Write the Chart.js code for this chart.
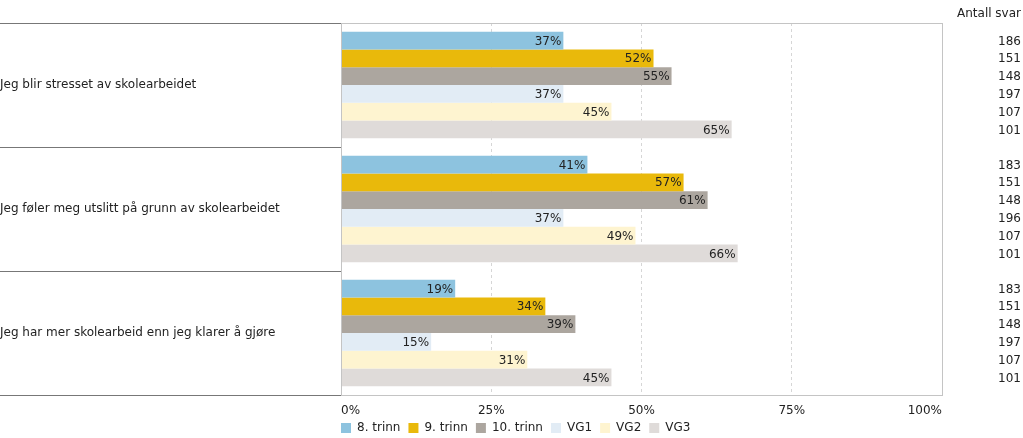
<!DOCTYPE html>
<html>
<head>
<meta charset="utf-8">
<script src="https://cdn.jsdelivr.net/npm/chart.js@4.4.1/dist/chart.umd.min.js"></script>
<style>
  html, body { margin: 0; padding: 0; background: #fff; }
  #wrap { width: 1023px; height: 438px; }
</style>
</head>
<body>
<div id="wrap"><canvas id="myChart"></canvas></div>
<script>
// statements (y categories)
const questions = [
  "Jeg blir stresset av skolearbeidet",
  "Jeg føler meg utslitt på grunn av skolearbeidet",
  "Jeg har mer skolearbeid enn jeg klarer å gjøre"
];
const groups = ["8. trinn", "9. trinn", "10. trinn", "VG1", "VG2", "VG3"];

// percent agreeing, one array per group (in question order)
const trinn8 = [37, 41, 19];
const trinn9 = [52, 57, 34];
const trinn10 = [55, 61, 39];
const vg1 = [37, 37, 15];
const vg2 = [45, 49, 31];
const vg3 = [65, 66, 45];

// number of answers ("Antall svar")
const n8 = [186, 183, 183];
const n9 = [151, 151, 151];
const n10 = [148, 148, 148];
const nVg1 = [197, 196, 197];
const nVg2 = [107, 107, 107];
const nVg3 = [101, 101, 101];

const xTicks = [0, 25, 50, 75, 100];

const barColors = ["#8dc3df", "#e9b90b", "#aca69f", "#e2ecf5", "#fef4d0", "#dfdbd9"];
const values = [trinn8, trinn9, trinn10, vg1, vg2, vg3];
const counts = [n8, n9, n10, nVg1, nVg2, nVg3];

Chart.defaults.font.family = "'DejaVu Sans', Verdana, sans-serif";
Chart.defaults.font.size = 12;
Chart.defaults.color = "#222";

// draws the % inside the bars, the counts on the right and the box round the plot
const extras = {
  id: "extras",
  beforeLayout(chart) {
    // fixed legend height so the plot keeps its size
    const lg = chart.legend;
    if (lg && !lg._fixed) {
      const fit = lg.fit.bind(lg);
      lg.fit = function () { fit(); this.height = 24; };
      lg._fixed = true;
    }
  },
  afterLayout(chart) {
    // legend starts at the plot's left edge
    chart.legend.left = chart.chartArea.left - 8;
  },
  afterDatasetsDraw(chart) {
    const ctx = chart.ctx;
    const area = chart.chartArea;
    ctx.save();
    ctx.strokeStyle = "#c4c4c4";
    ctx.lineWidth = 1;
    ctx.strokeRect(Math.round(area.left) + 0.5, Math.round(area.top) + 0.5,
      Math.round(area.right - area.left), Math.round(area.bottom - area.top));

    ctx.font = "12px 'DejaVu Sans', Verdana, sans-serif";
    ctx.fillStyle = "#222";
    ctx.textBaseline = "middle";
    chart.data.datasets.forEach((ds, i) => {
      const meta = chart.getDatasetMeta(i);
      meta.data.forEach((bar, j) => {
        ctx.textAlign = "right";
        ctx.fillText(ds.data[j] + "%", bar.x - 2, bar.y + 1);
        ctx.fillText(String(counts[i][j]), chart.width - 2, bar.y + 1);
      });
    });
    ctx.fillText("Antall svar", chart.width - 2, 14);
    ctx.restore();
  }
};

new Chart("myChart", {
  type: "bar",
  data: {
    labels: questions,
    datasets: groups.map((g, i) => ({
      label: g,
      data: values[i],
      backgroundColor: barColors[i],
      borderWidth: 0,
      barPercentage: 1.0,
      categoryPercentage: 0.86
    }))
  },
  options: {
    indexAxis: "y",
    responsive: true,
    maintainAspectRatio: false,
    animation: false,
    layout: { padding: { top: 23, right: 81, left: 0, bottom: 0 } },
    scales: {
      x: {
        min: 0,
        max: 100,
        afterBuildTicks(axis) {
          axis.ticks = xTicks.map(v => ({ value: v }));
        },
        afterFit(axis) {
          axis.height = 19;
        },
        ticks: {
          align: "inner",
          padding: 9,
          callback: v => v + "%"
        },
        grid: {
          color: "#d6d6d6",
          drawTicks: false
        },
        border: { color: "#c4c4c4", dash: [3, 3] }
      },
      y: {
        afterFit(axis) {
          axis.width = 341;
        },
        ticks: {
          crossAlign: "far",
          padding: 0
        },
        grid: {
          offset: true,
          drawOnChartArea: false,
          drawTicks: true,
          tickLength: 341,
          color: "#777"
        },
        border: { display: true, color: "#c4c4c4" }
      }
    },
    plugins: {
      legend: {
        position: "bottom",
        align: "start",
        labels: {
          boxWidth: 10,
          boxHeight: 10,
          padding: 8
        }
      },
      tooltip: { enabled: false }
    }
  },
  plugins: [extras]
});
</script>
</body>
</html>
